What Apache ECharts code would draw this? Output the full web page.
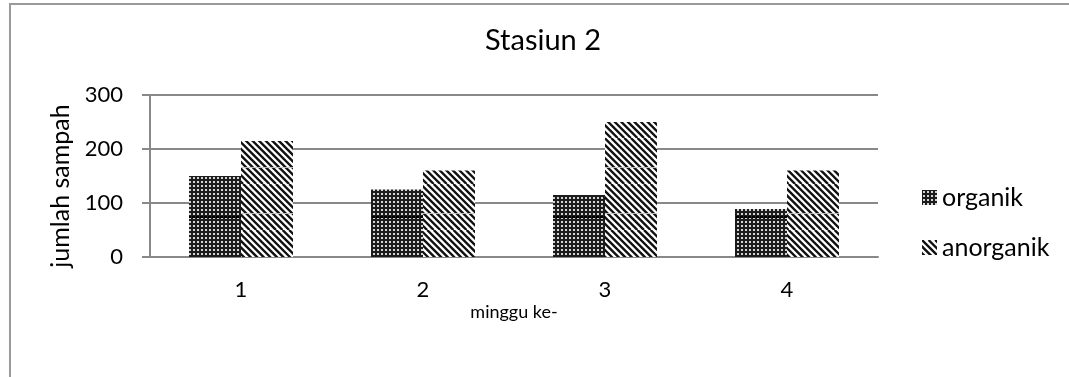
<!DOCTYPE html>
<html>
<head>
<meta charset="utf-8">
<script src="https://cdn.jsdelivr.net/npm/echarts@6/dist/echarts.min.js"></script>
<style>
  html, body { margin: 0; padding: 0; background: #fff; }
  #chart { width: 1069px; height: 377px; }
</style>
</head>
<body>
<div id="chart"></div>
<script>
// Weekly waste counts at station 2
const weeks = ['1', '2', '3', '4'];
const organik = [150, 125, 115, 89];
const anorganik = [215, 160, 250, 160];
const yTicks = [0, 100, 200, 300];

// Dotted grid fill: dark ground, light dots, one darker seam row per tile
function dotPattern() {
  const w = 4, h = 44;
  const c = document.createElement('canvas');
  c.width = w; c.height = h;
  const g = c.getContext('2d');
  g.fillStyle = '#1c1c1c';
  g.fillRect(0, 0, w, h);
  g.fillStyle = '#d4d4d4';
  for (let y = 0; y < h; y += 4) g.fillRect(1, y + 1, 2, 2);
  g.fillStyle = '#000000';
  g.fillRect(0, 40, 3, 2);
  return c;
}

// Diagonal stripes running top-left to bottom-right, light seam row per tile
function stripePattern() {
  const s = 46, n = 7, p = s / n;
  const c = document.createElement('canvas');
  c.width = s; c.height = s;
  const g = c.getContext('2d');
  g.fillStyle = '#ffffff';
  g.fillRect(0, 0, s, s);
  g.strokeStyle = '#111111';
  g.lineWidth = 2.4;
  g.beginPath();
  for (let k = -n - 1; k <= n + 1; k++) {
    g.moveTo(k * p, 0);
    g.lineTo(k * p + s, s);
  }
  g.stroke();
  g.fillStyle = 'rgba(200,200,200,0.9)';
  g.fillRect(0, 29, s, 1);
  return c;
}

const dots = { image: dotPattern(), repeat: 'repeat' };
const stripes = { image: stripePattern(), repeat: 'repeat' };

const font = 'Lato, "Open Sans", sans-serif';
const chart = echarts.init(document.getElementById('chart'));
chart.setOption({
  animation: false,
  backgroundColor: '#ffffff',
  textStyle: { fontFamily: font, color: '#000' },
  title: {
    text: 'Stasiun 2',
    left: 485,
    top: 26,
    padding: 0,
    textStyle: { fontFamily: font, fontSize: 29, fontWeight: 'normal', color: '#000' }
  },
  legend: {
    orient: 'vertical',
    left: 922,
    top: 185,
    padding: 0,
    itemWidth: 15,
    itemHeight: 15,
    itemGap: 25,
    textStyle: { fontFamily: font, fontSize: 25, lineHeight: 25, color: '#000' },
    data: [
      { name: 'organik', icon: 'rect' },
      { name: 'anorganik', icon: 'rect' }
    ]
  },
  grid: { left: 150, right: 191, top: 95, bottom: 120 },
  xAxis: {
    type: 'category',
    data: weeks,
    name: 'minggu ke-',
    nameLocation: 'middle',
    nameGap: 46,
    nameTextStyle: { fontFamily: font, fontSize: 18, color: '#000' },
    axisLine: { lineStyle: { color: '#888', width: 2 } },
    axisTick: { show: false },
    axisLabel: { fontFamily: font, fontSize: 22, color: '#000', margin: 22 }
  },
  yAxis: {
    type: 'value',
    min: yTicks[0],
    max: yTicks[yTicks.length - 1],
    interval: 100,
    name: 'jumlah sampah',
    nameLocation: 'middle',
    nameGap: 76,
    nameRotate: 90,
    nameTextStyle: { fontFamily: font, fontSize: 25, color: '#000', padding: [0, 20, 0, 0] },
    axisLine: { show: true, lineStyle: { color: '#888', width: 2 } },
    axisTick: { show: true, length: 8, lineStyle: { color: '#888', width: 2 } },
    splitLine: { lineStyle: { color: '#888', width: 2 } },
    axisLabel: { fontFamily: font, fontSize: 22, color: '#000', margin: 27 }
  },
  series: [
    {
      name: 'organik',
      type: 'bar',
      data: organik,
      barWidth: 52,
      barGap: '0%',
      itemStyle: { color: dots }
    },
    {
      name: 'anorganik',
      type: 'bar',
      data: anorganik,
      barWidth: 52,
      barGap: '0%',
      itemStyle: { color: stripes }
    }
  ],
  graphic: [
    {
      type: 'polyline',
      shape: { points: [[10, 377], [10, 4], [1069, 4]] },
      style: { stroke: '#9a9a9a', lineWidth: 2, fill: null }
    }
  ]
});
</script>
</body>
</html>
